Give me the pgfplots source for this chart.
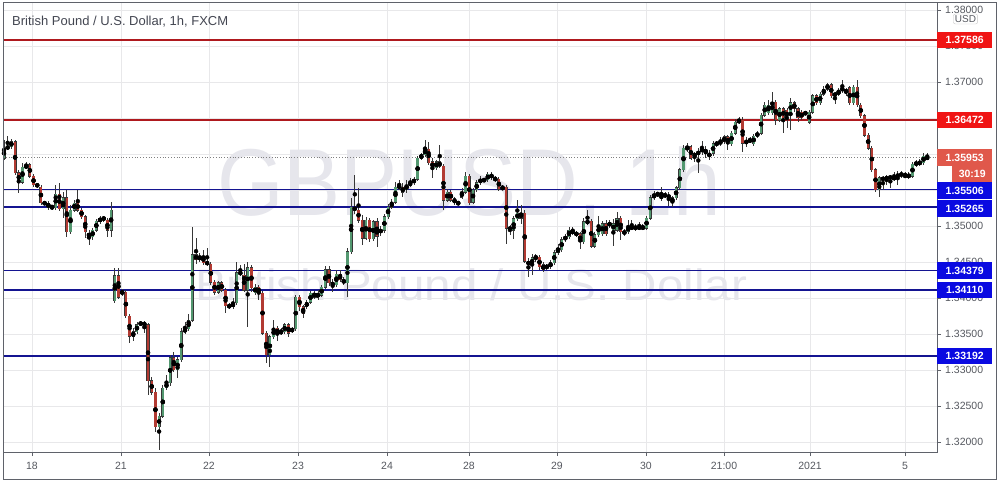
\documentclass[border=0pt]{standalone}
\usepackage{pgfplots}
\pgfplotsset{compat=1.18}
\usepackage{pgfplotstable}
\usepackage{fontspec}
\setmainfont{Liberation Sans}

\definecolor{upc}{RGB}{83,152,112}
\definecolor{dnc}{RGB}{178,58,50}
\definecolor{wick}{RGB}{55,55,55}
\definecolor{gridc}{RGB}{232,232,234}
\definecolor{axc}{RGB}{95,98,106}
\definecolor{tickc}{RGB}{85,88,95}
\definecolor{resline}{RGB}{175,25,30}
\definecolor{supline}{RGB}{20,20,145}
\definecolor{resbox}{RGB}{240,20,20}
\definecolor{supbox}{RGB}{10,10,225}
\definecolor{lastbox}{RGB}{224,88,75}
\definecolor{wm}{RGB}{230,230,236}
\definecolor{titlec}{RGB}{67,70,81}

% GBPUSD 1h candles: index, open, high, low, close
\pgfplotstableread{
i o h l c
0 1.3594 1.3619 1.3592 1.3608
1 1.3608 1.3625 1.3606 1.3610
2 1.3610 1.3621 1.3607 1.3617
3 1.3617 1.3619 1.3571 1.3574
4 1.3574 1.3578 1.3546 1.3561
5 1.3561 1.3588 1.3558 1.3582
6 1.3582 1.3589 1.3579 1.3583
7 1.3585 1.3588 1.3567 1.3569
8 1.3569 1.3572 1.3554 1.3557
9 1.3557 1.3560 1.3553 1.3556
10 1.3554 1.3557 1.3529 1.3532
11 1.3532 1.3535 1.3529 1.3531
12 1.3532 1.3535 1.3522 1.3526
13 1.3526 1.3529 1.3522 1.3527
14 1.3525 1.3557 1.3522 1.3544
15 1.3544 1.3560 1.3521 1.3524
16 1.3524 1.3547 1.3511 1.3539
17 1.3539 1.3550 1.3485 1.3492
18 1.3492 1.3529 1.3489 1.3522
19 1.3522 1.3536 1.3519 1.3532
20 1.3532 1.3550 1.3519 1.3522
21 1.3522 1.3525 1.3510 1.3513
22 1.3513 1.3515 1.3483 1.3492
23 1.3489 1.3494 1.3474 1.3486
24 1.3485 1.3497 1.3481 1.3494
25 1.3494 1.3510 1.3492 1.3507
26 1.3506 1.3514 1.3503 1.3511
27 1.3511 1.3514 1.3506 1.3510
28 1.3508 1.3511 1.3485 1.3494
29 1.3494 1.3533 1.3485 1.3522
30 1.3396 1.3442 1.3393 1.3431
31 1.3431 1.3442 1.3399 1.3401
32 1.3408 1.3413 1.3403 1.3407
33 1.3408 1.3411 1.3372 1.3375
34 1.3375 1.3378 1.3338 1.3347
35 1.3347 1.3358 1.3340 1.3353
36 1.3353 1.3367 1.3350 1.3363
37 1.3365 1.3368 1.3361 1.3364
38 1.3365 1.3368 1.3351 1.3363
39 1.3363 1.3365 1.3265 1.3285
40 1.3285 1.3290 1.3265 1.3269
41 1.3269 1.3275 1.3214 1.3221
42 1.3221 1.3240 1.3189 1.3236
43 1.3236 1.3279 1.3233 1.3275
44 1.3275 1.3293 1.3272 1.3282
45 1.3282 1.3321 1.3278 1.3317
46 1.3317 1.3325 1.3297 1.3300
47 1.3300 1.3318 1.3289 1.3314
48 1.3314 1.3358 1.3311 1.3353
49 1.3353 1.3367 1.3350 1.3357
50 1.3357 1.3378 1.3354 1.3369
51 1.3369 1.3499 1.3367 1.3460
52 1.3460 1.3483 1.3447 1.3453
53 1.3458 1.3463 1.3450 1.3453
54 1.3458 1.3467 1.3446 1.3449
55 1.3449 1.3469 1.3444 1.3448
56 1.3447 1.3450 1.3418 1.3422
57 1.3422 1.3425 1.3404 1.3408
58 1.3408 1.3424 1.3406 1.3421
59 1.3421 1.3424 1.3408 1.3411
60 1.3411 1.3414 1.3379 1.3389
61 1.3389 1.3393 1.3385 1.3388
62 1.3388 1.3400 1.3385 1.3393
63 1.3393 1.3450 1.3390 1.3435
64 1.3435 1.3446 1.3431 1.3434
65 1.3432 1.3447 1.3408 1.3411
66 1.3411 1.3450 1.3360 1.3442
67 1.3442 1.3446 1.3408 1.3414
68 1.3407 1.3419 1.3404 1.3415
69 1.3415 1.3418 1.3397 1.3407
70 1.3407 1.3410 1.3349 1.3351
71 1.3351 1.3354 1.3310 1.3321
72 1.3321 1.3349 1.3304 1.3346
73 1.3346 1.3369 1.3343 1.3358
74 1.3358 1.3361 1.3340 1.3350
75 1.3353 1.3358 1.3349 1.3352
76 1.3353 1.3365 1.3350 1.3363
77 1.3363 1.3365 1.3346 1.3351
78 1.3356 1.3360 1.3351 1.3355
79 1.3357 1.3404 1.3354 1.3401
80 1.3401 1.3404 1.3382 1.3388
81 1.3388 1.3390 1.3372 1.3378
82 1.3388 1.3397 1.3385 1.3394
83 1.3394 1.3410 1.3392 1.3407
84 1.3407 1.3410 1.3399 1.3401
85 1.3401 1.3411 1.3397 1.3407
86 1.3404 1.3418 1.3401 1.3415
87 1.3415 1.3444 1.3413 1.3439
88 1.3439 1.3444 1.3417 1.3421
89 1.3421 1.3426 1.3408 1.3418
90 1.3418 1.3439 1.3415 1.3433
91 1.3433 1.3439 1.3422 1.3425
92 1.3425 1.3429 1.3418 1.3421
93 1.3421 1.3469 1.3401 1.3464
94 1.3464 1.3539 1.3461 1.3526
95 1.3526 1.3571 1.3517 1.3522
96 1.3522 1.3553 1.3504 1.3508
97 1.3508 1.3515 1.3474 1.3483
98 1.3483 1.3513 1.3481 1.3508
99 1.3508 1.3511 1.3478 1.3482
100 1.3482 1.3508 1.3479 1.3506
101 1.3506 1.3511 1.3471 1.3486
102 1.3492 1.3500 1.3486 1.3494
103 1.3494 1.3517 1.3490 1.3513
104 1.3513 1.3531 1.3510 1.3526
105 1.3526 1.3538 1.3524 1.3533
106 1.3533 1.3561 1.3531 1.3554
107 1.3554 1.3564 1.3550 1.3555
108 1.3554 1.3560 1.3540 1.3547
109 1.3550 1.3564 1.3546 1.3557
110 1.3557 1.3567 1.3554 1.3560
111 1.3560 1.3568 1.3557 1.3565
112 1.3565 1.3597 1.3563 1.3594
113 1.3594 1.3601 1.3592 1.3599
114 1.3599 1.3619 1.3596 1.3607
115 1.3607 1.3617 1.3585 1.3588
116 1.3589 1.3594 1.3567 1.3581
117 1.3581 1.3592 1.3578 1.3589
118 1.3589 1.3613 1.3581 1.3583
119 1.3583 1.3586 1.3522 1.3536
120 1.3536 1.3551 1.3533 1.3547
121 1.3547 1.3550 1.3533 1.3536
122 1.3538 1.3540 1.3529 1.3532
123 1.3532 1.3535 1.3529 1.3531
124 1.3540 1.3553 1.3538 1.3547
125 1.3547 1.3575 1.3544 1.3569
126 1.3569 1.3572 1.3529 1.3532
127 1.3533 1.3553 1.3531 1.3550
128 1.3550 1.3564 1.3547 1.3560
129 1.3560 1.3569 1.3557 1.3565
130 1.3564 1.3567 1.3561 1.3563
131 1.3564 1.3575 1.3561 1.3572
132 1.3572 1.3575 1.3564 1.3567
133 1.3567 1.3569 1.3561 1.3564
134 1.3565 1.3568 1.3549 1.3551
135 1.3553 1.3557 1.3550 1.3552
136 1.3554 1.3557 1.3475 1.3497
137 1.3496 1.3501 1.3488 1.3497
138 1.3494 1.3514 1.3482 1.3510
139 1.3510 1.3536 1.3507 1.3518
140 1.3518 1.3529 1.3503 1.3511
141 1.3518 1.3522 1.3449 1.3451
142 1.3451 1.3456 1.3429 1.3446
143 1.3446 1.3461 1.3432 1.3456
144 1.3456 1.3461 1.3450 1.3457
145 1.3457 1.3460 1.3439 1.3443
146 1.3446 1.3450 1.3436 1.3439
147 1.3443 1.3447 1.3439 1.3444
148 1.3443 1.3453 1.3440 1.3449
149 1.3449 1.3467 1.3446 1.3463
150 1.3463 1.3475 1.3460 1.3469
151 1.3467 1.3485 1.3464 1.3481
152 1.3481 1.3489 1.3478 1.3485
153 1.3485 1.3499 1.3482 1.3494
154 1.3490 1.3499 1.3488 1.3494
155 1.3490 1.3493 1.3485 1.3488
156 1.3489 1.3492 1.3468 1.3478
157 1.3478 1.3511 1.3475 1.3506
158 1.3504 1.3522 1.3501 1.3507
159 1.3507 1.3510 1.3469 1.3472
160 1.3472 1.3492 1.3469 1.3488
161 1.3488 1.3514 1.3485 1.3501
162 1.3489 1.3507 1.3486 1.3503
163 1.3503 1.3508 1.3486 1.3489
164 1.3503 1.3508 1.3497 1.3502
165 1.3494 1.3510 1.3472 1.3503
166 1.3494 1.3519 1.3492 1.3510
167 1.3511 1.3514 1.3481 1.3492
168 1.3492 1.3496 1.3486 1.3490
169 1.3492 1.3508 1.3489 1.3499
170 1.3497 1.3508 1.3494 1.3498
171 1.3497 1.3503 1.3493 1.3498
172 1.3497 1.3506 1.3494 1.3498
173 1.3497 1.3503 1.3494 1.3498
174 1.3497 1.3514 1.3494 1.3511
175 1.3511 1.3543 1.3508 1.3539
176 1.3539 1.3549 1.3536 1.3544
177 1.3544 1.3547 1.3540 1.3545
178 1.3538 1.3554 1.3535 1.3543
179 1.3543 1.3547 1.3539 1.3542
180 1.3543 1.3547 1.3528 1.3539
181 1.3533 1.3542 1.3526 1.3539
182 1.3539 1.3556 1.3536 1.3553
183 1.3553 1.3581 1.3550 1.3578
184 1.3578 1.3613 1.3575 1.3608
185 1.3606 1.3615 1.3603 1.3610
186 1.3610 1.3613 1.3592 1.3594
187 1.3599 1.3603 1.3589 1.3598
188 1.3599 1.3608 1.3574 1.3604
189 1.3604 1.3618 1.3599 1.3607
190 1.3607 1.3611 1.3594 1.3601
191 1.3596 1.3606 1.3592 1.3601
192 1.3601 1.3618 1.3597 1.3614
193 1.3614 1.3618 1.3610 1.3615
194 1.3614 1.3624 1.3611 1.3618
195 1.3624 1.3626 1.3614 1.3617
196 1.3624 1.3626 1.3606 1.3614
197 1.3614 1.3632 1.3611 1.3629
198 1.3629 1.3649 1.3626 1.3644
199 1.3644 1.3651 1.3642 1.3647
200 1.3647 1.3651 1.3603 1.3615
201 1.3619 1.3624 1.3610 1.3614
202 1.3619 1.3624 1.3615 1.3618
203 1.3614 1.3628 1.3611 1.3625
204 1.3625 1.3632 1.3622 1.3629
205 1.3629 1.3657 1.3626 1.3654
206 1.3654 1.3672 1.3651 1.3668
207 1.3657 1.3675 1.3654 1.3668
208 1.3657 1.3686 1.3654 1.3672
209 1.3672 1.3675 1.3640 1.3647
210 1.3647 1.3665 1.3644 1.3663
211 1.3663 1.3665 1.3629 1.3650
212 1.3661 1.3664 1.3636 1.3650
213 1.3658 1.3678 1.3633 1.3671
214 1.3671 1.3674 1.3658 1.3663
215 1.3663 1.3665 1.3644 1.3650
216 1.3658 1.3661 1.3647 1.3650
217 1.3657 1.3660 1.3654 1.3656
218 1.3644 1.3661 1.3642 1.3658
219 1.3658 1.3683 1.3656 1.3681
220 1.3681 1.3683 1.3668 1.3671
221 1.3671 1.3686 1.3668 1.3683
222 1.3683 1.3694 1.3681 1.3690
223 1.3690 1.3699 1.3688 1.3696
224 1.3696 1.3699 1.3678 1.3681
225 1.3683 1.3686 1.3669 1.3682
226 1.3683 1.3692 1.3681 1.3688
227 1.3688 1.3703 1.3685 1.3692
228 1.3685 1.3692 1.3681 1.3689
229 1.3692 1.3694 1.3668 1.3671
230 1.3671 1.3696 1.3668 1.3693
231 1.3693 1.3703 1.3665 1.3668
232 1.3668 1.3671 1.3650 1.3653
233 1.3653 1.3656 1.3624 1.3626
234 1.3626 1.3629 1.3606 1.3608
235 1.3608 1.3611 1.3575 1.3578
236 1.3578 1.3581 1.3547 1.3550
237 1.3550 1.3569 1.3540 1.3567
238 1.3564 1.3569 1.3550 1.3567
239 1.3567 1.3571 1.3557 1.3566
240 1.3567 1.3571 1.3553 1.3568
241 1.3565 1.3575 1.3563 1.3568
242 1.3568 1.3576 1.3557 1.3572
243 1.3571 1.3576 1.3567 1.3572
244 1.3569 1.3575 1.3567 1.3570
245 1.3568 1.3575 1.3565 1.3571
246 1.3569 1.3589 1.3567 1.3586
247 1.3585 1.3592 1.3582 1.3588
248 1.3586 1.3593 1.3583 1.3589
249 1.3588 1.3601 1.3585 1.3597
250 1.3594 1.3601 1.3592 1.35953
}\candles

\begin{document}
\begin{tikzpicture}[x=1pt,y=1pt,
  pbox/.style={fill=#1, text=white, anchor=west, inner sep=0pt,
    minimum width=55pt, minimum height=16.6pt, text height=7.6pt, text depth=0pt,
    font=\bfseries\fontsize{10.5}{12}\selectfont}]

\begin{axis}[
  scale only axis, width=934pt, height=449pt,
  xmin=-0.27, xmax=252.64,
  ymin=1.318611, ymax=1.380972,
  axis line style={draw=axc, line width=1pt},
  xtick pos=left, ytick pos=right, yticklabel pos=right,
  tick align=outside, major tick length=4pt,
  tick style={draw=axc, line width=0.8pt},
  grid=major, major grid style={draw=gridc, line width=0.8pt},
  ytick={1.32,1.325,1.33,1.335,1.34,1.345,1.35,1.355,1.36,1.365,1.37,1.375,1.38},
  yticklabels={1.32000,1.32500,1.33000,1.33500,1.34000,1.34500,1.35000,,,,1.37000,1.37500,1.38000},
  xtick={7.58,31.68,55.51,79.61,103.71,125.91,149.74,173.84,194.96,218.25,243.97},
  xticklabels={18,21,22,23,24,28,29,30,21:00,2021,5},
  ticklabel style={font=\fontsize{10.5}{12}\selectfont, text=tickc},
  yticklabel style={anchor=west, inner sep=0pt, xshift=4pt},
  xticklabel style={inner sep=0pt, yshift=-6pt},
  unbounded coords=discard,
]
% watermark
\node[anchor=base, text=wm, xscale=0.9, inner sep=0pt,
  font=\fontsize{95}{95}\selectfont] at (rel axis cs:0.4989,0.5278) {GBPUSD, 1h};
\node[anchor=base, text=wm, xscale=1.08, inner sep=0pt,
  font=\fontsize{44}{44}\selectfont] at (rel axis cs:0.5011,0.3385) {British Pound / U.S. Dollar};

% support / resistance lines
\addplot[resline, line width=1.4pt] coordinates {(-0.27,1.37586) (252.64,1.37586)};
\addplot[resline, line width=1.4pt] coordinates {(-0.27,1.36472) (252.64,1.36472)};
\addplot[supline, line width=1.4pt] coordinates {(-0.27,1.35506) (252.64,1.35506)};
\addplot[supline, line width=1.4pt] coordinates {(-0.27,1.35265) (252.64,1.35265)};
\addplot[supline, line width=1.4pt] coordinates {(-0.27,1.34379) (252.64,1.34379)};
\addplot[supline, line width=1.4pt] coordinates {(-0.27,1.34110) (252.64,1.34110)};
\addplot[supline, line width=1.4pt] coordinates {(-0.27,1.33192) (252.64,1.33192)};
\addplot[gray, dotted, line width=0.8pt] coordinates {(-0.27,1.35953) (252.64,1.35953)};

% wicks
\addplot[only marks, mark=none,
  error bars/.cd, y dir=both, y explicit, error mark=none,
  error bar style={draw=wick, line width=0.8pt}]
  table[x=i, y expr={0.5*(\thisrow{h}+\thisrow{l})},
    y error expr={0.5*(\thisrow{h}-\thisrow{l})}] {\candles};
% body outlines
\addplot[only marks, mark=none,
  error bars/.cd, y dir=both, y explicit, error mark=none,
  error bar style={draw=wick, line width=3.1pt}]
  table[x=i, y expr={0.5*(\thisrow{o}+\thisrow{c})},
    y error expr={0.5*abs(\thisrow{c}-\thisrow{o})+0.00006}] {\candles};
% rising bodies
\addplot[only marks, mark=none,
  error bars/.cd, y dir=both, y explicit, error mark=none,
  error bar style={draw=upc, line width=2.3pt}]
  table[x=i, y expr={\thisrow{c}>=\thisrow{o} ? 0.5*(\thisrow{o}+\thisrow{c}) : nan},
    y error expr={0.5*abs(\thisrow{c}-\thisrow{o})}] {\candles};
% falling bodies
\addplot[only marks, mark=none,
  error bars/.cd, y dir=both, y explicit, error mark=none,
  error bar style={draw=dnc, line width=2.3pt}]
  table[x=i, y expr={\thisrow{c}<\thisrow{o} ? 0.5*(\thisrow{o}+\thisrow{c}) : nan},
    y error expr={0.5*abs(\thisrow{c}-\thisrow{o})}] {\candles};

\coordinate (SW) at (rel axis cs:0,0);
\coordinate (r1) at (axis cs:0,1.37586);
\coordinate (r2) at (axis cs:0,1.36472);
\coordinate (lp) at (axis cs:0,1.35953);
\coordinate (s1) at (axis cs:0,1.35506);
\coordinate (s2) at (axis cs:0,1.35265);
\coordinate (s3) at (axis cs:0,1.34379);
\coordinate (s4) at (axis cs:0,1.34110);
\coordinate (s5) at (axis cs:0,1.33192);
\end{axis}

% page coordinates: origin at bottom-left of the picture, 1pt = 1px
\begin{scope}[shift={(SW)}, shift={(-3,-33)}]
\coordinate (xr) at (937,0);
\coordinate (xt) at (952,0);
\node[pbox=resbox] at (r1 -| xr) {1.37586};
\node[pbox=resbox] at (r2 -| xr) {1.36472};
\node[pbox=lastbox] at (lp -| xr) {1.35953};
\node[pbox=lastbox, minimum width=40pt] at ([yshift=-16.6pt]lp -| xt) {30:19};
\node[pbox=supbox] at ([yshift=-1pt]s1 -| xr) {1.35506};
\node[pbox=supbox] at ([yshift=-1.5pt]s2 -| xr) {1.35265};
\node[pbox=supbox] at (s3 -| xr) {1.34379};
\node[pbox=supbox] at (s4 -| xr) {1.34110};
\node[pbox=supbox] at (s5 -| xr) {1.33192};

\node[draw=gray!45, fill=white, rounded corners=2pt, inner sep=1.5pt,
  text=tickc, font=\fontsize{10}{12}\selectfont] at (965.5,466) {USD};

\node[anchor=base west, inner sep=0pt, text=titlec,
  font=\fontsize{13}{15}\selectfont] at (12,459) {British Pound / U.S. Dollar, 1h, FXCM};

\draw[axc, line width=1pt] (3,6) rectangle (996,482);

\pgfresetboundingbox
\useasboundingbox (0,0) rectangle (1003,485);
\end{scope}
\end{tikzpicture}
\end{document}
